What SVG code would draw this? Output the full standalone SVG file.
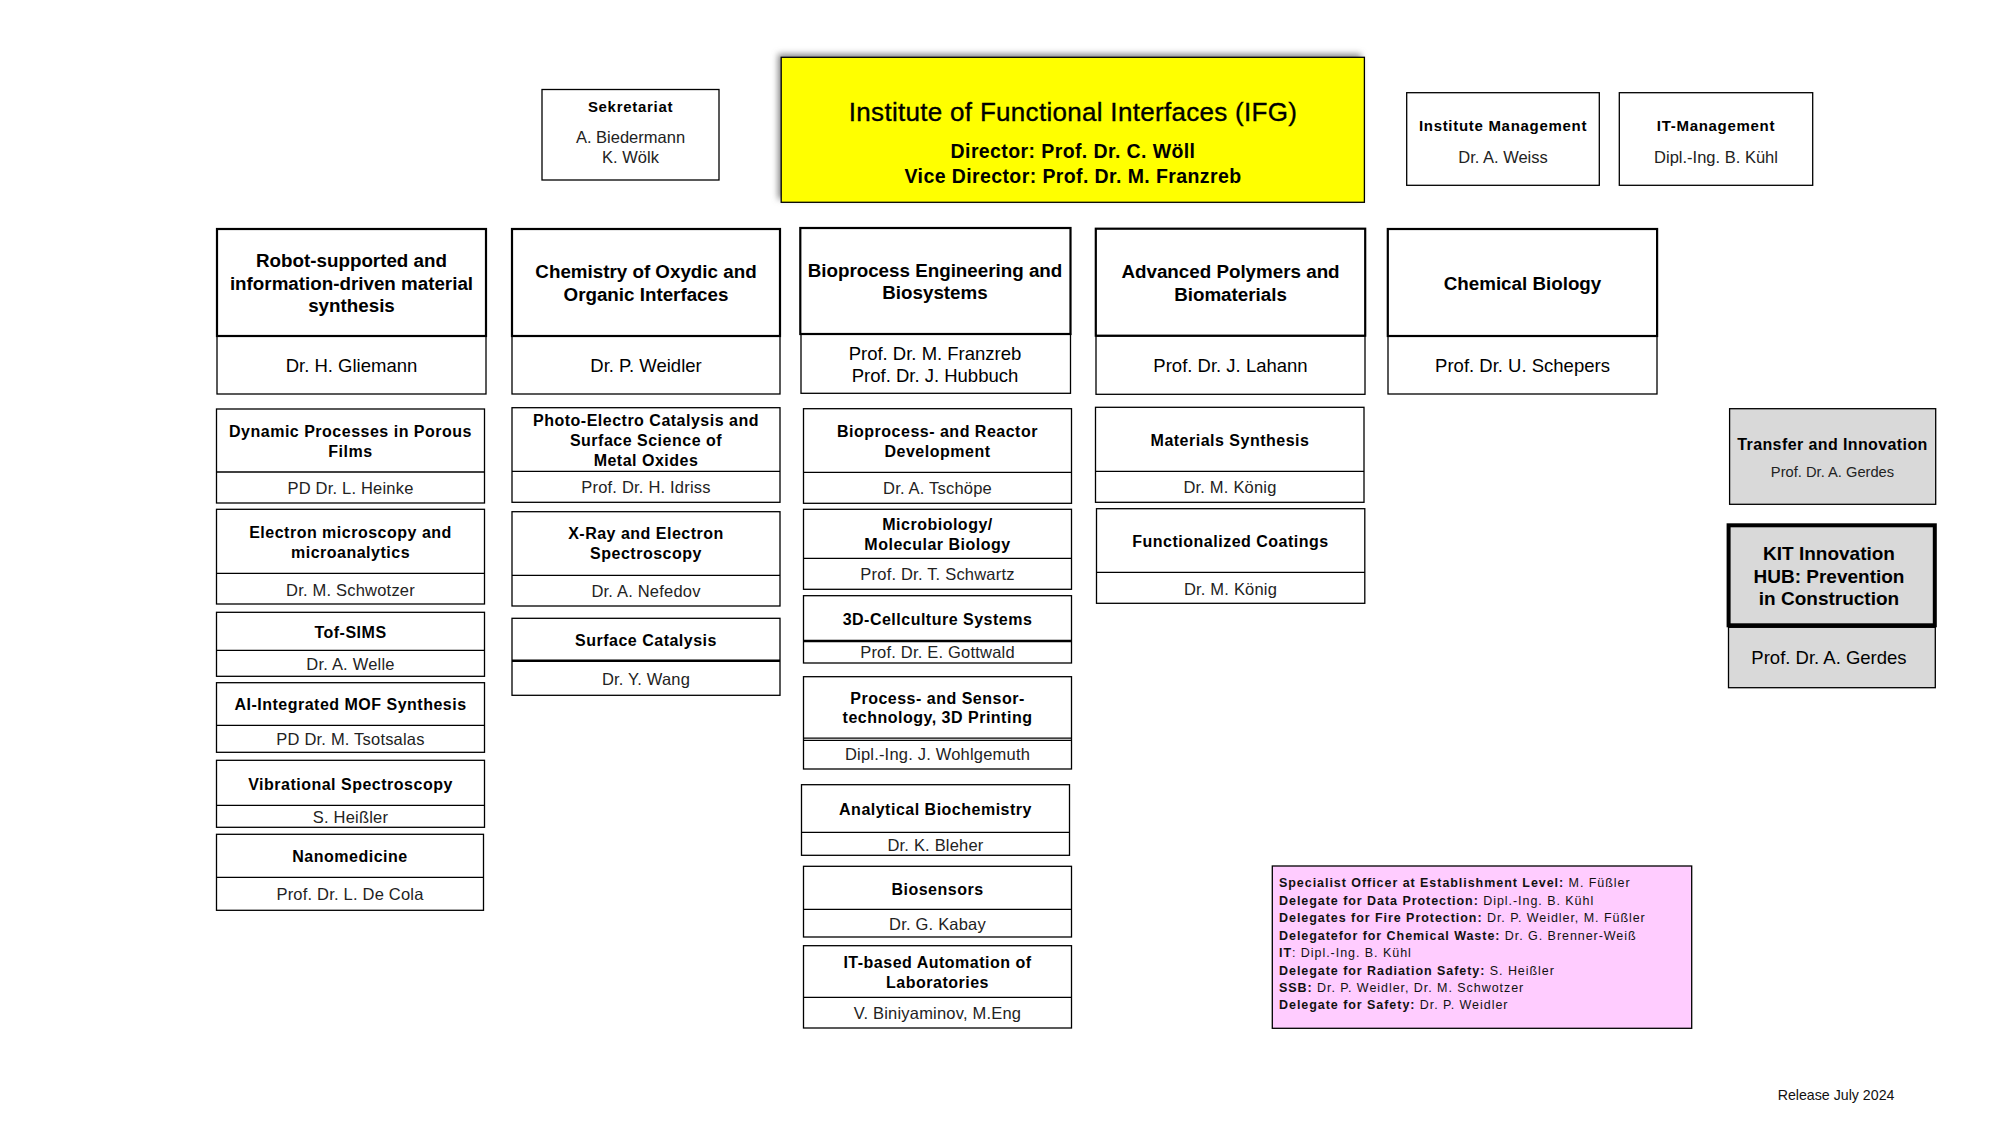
<svg xmlns="http://www.w3.org/2000/svg" width="2000" height="1125" viewBox="0 0 2000 1125">
<defs>
<filter id="sh" x="-10%" y="-20%" width="120%" height="140%"><feGaussianBlur stdDeviation="3"/></filter>
</defs>
<style>
text{font-family:"Liberation Sans",Arial,sans-serif;text-anchor:middle;fill:#000}
.b{fill:#fff;stroke:#000;stroke-width:1.3}
.hb{fill:#fff;stroke:#000;stroke-width:2.2}
.g{fill:#d9d9d9;stroke:#000;stroke-width:1.3}
.dv{stroke:#000;stroke-width:1.3}
.dk{stroke:#000;stroke-width:2.6}
.ht{font-size:18.8px;font-weight:bold}
.hn{font-size:18.5px}
.st{font-size:16px;font-weight:bold;letter-spacing:0.5px}
.sn{font-size:16.5px;fill:#222;letter-spacing:0.2px}
.tt{font-size:15px;font-weight:bold;letter-spacing:0.7px}
.tn{font-size:16.5px;fill:#222}
.pk{font-size:12.5px;text-anchor:start;letter-spacing:0.95px;fill:#111}
.pk tspan.bd{font-weight:bold}
</style>

<g id="connectors"/>

<g id="sekretariat">
<rect class="b" x="542" y="89.5" width="177" height="90.5"/>
<text class="tt" x="630.5" y="112">Sekretariat</text>
<text class="tn" x="630.5" y="143">A. Biedermann</text>
<text class="tn" x="630.5" y="162.5">K. Wölk</text>
</g>

<g id="ifg">
<rect x="778" y="54" width="583" height="145" fill="#888" filter="url(#sh)"/>
<rect x="781.2" y="57.3" width="583.2" height="145" fill="#ffff00" stroke="#000" stroke-width="1.3"/>
<text x="1073" y="120.5" style="font-size:26px;letter-spacing:0.3px;stroke:#000;stroke-width:0.35">Institute of Functional Interfaces (IFG)</text>
<text x="1073" y="157.5" style="font-size:19.5px;font-weight:bold;letter-spacing:0.4px">Director: Prof. Dr. C. Wöll</text>
<text x="1073" y="183" style="font-size:19.5px;font-weight:bold;letter-spacing:0.4px">Vice Director: Prof. Dr. M. Franzreb</text>
</g>

<g id="institute-management">
<rect class="b" x="1406.7" y="92.7" width="192.6" height="92.6"/>
<text class="tt" x="1503" y="131">Institute Management</text>
<text class="tn" x="1503" y="162.5">Dr. A. Weiss</text>
</g>

<g id="it-management">
<rect class="b" x="1619.3" y="92.7" width="193.4" height="92.6"/>
<text class="tt" x="1716" y="131">IT-Management</text>
<text class="tn" x="1716" y="162.5">Dipl.-Ing. B. Kühl</text>
</g>

<!-- Header divisions -->
<g id="div-robot">
<rect class="b" x="217" y="336" width="269" height="58"/>
<rect class="hb" x="217" y="229" width="269" height="107"/>
<text class="ht" x="351.5" y="267.4">Robot-supported and</text>
<text class="ht" x="351.5" y="290">information-driven material</text>
<text class="ht" x="351.5" y="312.4">synthesis</text>
<text class="hn" x="351.5" y="372.3">Dr. H. Gliemann</text>
</g>

<g id="div-chemistry">
<rect class="b" x="512" y="336" width="268" height="58"/>
<rect class="hb" x="512" y="229" width="268" height="107"/>
<text class="ht" x="646" y="278.4">Chemistry of Oxydic and</text>
<text class="ht" x="646" y="300.7">Organic Interfaces</text>
<text class="hn" x="646" y="372.3">Dr. P. Weidler</text>
</g>

<g id="div-bioprocess">
<rect class="b" x="801" y="334" width="269.5" height="59.3"/>
<rect class="hb" x="800.3" y="228" width="270.2" height="106"/>
<text class="ht" x="935" y="277.4">Bioprocess Engineering and</text>
<text class="ht" x="935" y="299">Biosystems</text>
<text class="hn" x="935" y="359.9">Prof. Dr. M. Franzreb</text>
<text class="hn" x="935" y="381.9">Prof. Dr. J. Hubbuch</text>
</g>

<g id="div-polymers">
<rect class="b" x="1096" y="336" width="269" height="58.3"/>
<rect class="hb" x="1095.8" y="228.7" width="269.4" height="107"/>
<text class="ht" x="1230.5" y="278.4">Advanced Polymers and</text>
<text class="ht" x="1230.5" y="300.7">Biomaterials</text>
<text class="hn" x="1230.5" y="372.3">Prof. Dr. J. Lahann</text>
</g>

<g id="div-chembio">
<rect class="b" x="1388" y="336" width="269" height="58"/>
<rect class="hb" x="1387.8" y="229" width="269.3" height="107"/>
<text class="ht" x="1522.5" y="290">Chemical Biology</text>
<text class="hn" x="1522.5" y="372.3">Prof. Dr. U. Schepers</text>
</g>

<!-- Column 1 groups -->
<g id="grp-dynamic">
<rect class="b" x="216.5" y="409" width="268" height="94"/>
<line class="dv" x1="216.5" y1="472" x2="484.5" y2="472"/>
<text class="st" x="350.5" y="437">Dynamic Processes in Porous</text>
<text class="st" x="350.5" y="456.7">Films</text>
<text class="sn" x="350.5" y="494">PD Dr. L. Heinke</text>
</g>

<g id="grp-electron">
<rect class="b" x="216.5" y="509.3" width="268" height="94.7"/>
<line class="dv" x1="216.5" y1="573.3" x2="484.5" y2="573.3"/>
<text class="st" x="350.5" y="538">Electron microscopy and</text>
<text class="st" x="350.5" y="558">microanalytics</text>
<text class="sn" x="350.5" y="595.7">Dr. M. Schwotzer</text>
</g>

<g id="grp-tofsims">
<rect class="b" x="216.5" y="612.3" width="268" height="64"/>
<line class="dv" x1="216.5" y1="650.3" x2="484.5" y2="650.3"/>
<text class="st" x="350.5" y="638">Tof-SIMS</text>
<text class="sn" x="350.5" y="669.7">Dr. A. Welle</text>
</g>

<g id="grp-ai-mof">
<rect class="b" x="216.5" y="682.7" width="268" height="69.6"/>
<line class="dv" x1="216.5" y1="725.3" x2="484.5" y2="725.3"/>
<text class="st" x="350.5" y="710">AI-Integrated MOF Synthesis</text>
<text class="sn" x="350.5" y="745">PD Dr. M. Tsotsalas</text>
</g>

<g id="grp-vibrational">
<rect class="b" x="216.5" y="760.3" width="268" height="67"/>
<line class="dv" x1="216.5" y1="805.3" x2="484.5" y2="805.3"/>
<text class="st" x="350.5" y="789.7">Vibrational Spectroscopy</text>
<text class="sn" x="350.5" y="823">S. Heißler</text>
</g>

<g id="grp-nanomedicine">
<rect class="b" x="216.5" y="834.3" width="267" height="76"/>
<line class="dv" x1="216.5" y1="877.3" x2="483.5" y2="877.3"/>
<text class="st" x="350" y="861.7">Nanomedicine</text>
<text class="sn" x="350" y="900">Prof. Dr. L. De Cola</text>
</g>

<!-- Column 2 groups -->
<g id="grp-photo">
<rect class="b" x="512" y="407.7" width="268" height="94.6"/>
<line class="dv" x1="512" y1="471.3" x2="780" y2="471.3"/>
<text class="st" x="646" y="426">Photo-Electro Catalysis and</text>
<text class="st" x="646" y="446">Surface Science of</text>
<text class="st" x="646" y="466">Metal Oxides</text>
<text class="sn" x="646" y="493">Prof. Dr. H. Idriss</text>
</g>

<g id="grp-xray">
<rect class="b" x="512" y="511.7" width="268" height="94.3"/>
<line class="dv" x1="512" y1="575.3" x2="780" y2="575.3"/>
<text class="st" x="646" y="539">X-Ray and Electron</text>
<text class="st" x="646" y="559.4">Spectroscopy</text>
<text class="sn" x="646" y="597.3">Dr. A. Nefedov</text>
</g>

<g id="grp-surface">
<rect class="b" x="512" y="618.3" width="268" height="77"/>
<line class="dk" x1="512" y1="660.7" x2="780" y2="660.7"/>
<text class="st" x="646" y="646">Surface Catalysis</text>
<text class="sn" x="646" y="684.7">Dr. Y. Wang</text>
</g>

<!-- Column 3 groups -->
<g id="grp-reactor">
<rect class="b" x="803.5" y="408.7" width="268" height="94.6"/>
<line class="dv" x1="803.5" y1="472.3" x2="1071.5" y2="472.3"/>
<text class="st" x="937.5" y="437">Bioprocess- and Reactor</text>
<text class="st" x="937.5" y="456.7">Development</text>
<text class="sn" x="937.5" y="494">Dr. A. Tschöpe</text>
</g>

<g id="grp-microbiology">
<rect class="b" x="803.5" y="509.3" width="268" height="80"/>
<line class="dv" x1="803.5" y1="558.3" x2="1071.5" y2="558.3"/>
<text class="st" x="937.5" y="529.7">Microbiology/</text>
<text class="st" x="937.5" y="549.7">Molecular Biology</text>
<text class="sn" x="937.5" y="579.7">Prof. Dr. T. Schwartz</text>
</g>

<g id="grp-cellculture">
<rect class="b" x="803.5" y="595.7" width="268" height="67.3"/>
<line class="dk" x1="803.5" y1="641" x2="1071.5" y2="641"/>
<text class="st" x="937.5" y="624.7">3D-Cellculture Systems</text>
<text class="sn" x="937.5" y="658.3">Prof. Dr. E. Gottwald</text>
</g>

<g id="grp-sensor">
<rect class="b" x="803.5" y="676.7" width="268" height="92.3"/>
<line class="dv" x1="803.5" y1="738.2" x2="1071.5" y2="738.2"/>
<line class="dv" x1="803.5" y1="740.4" x2="1071.5" y2="740.4"/>
<text class="st" x="937.5" y="704">Process- and Sensor-</text>
<text class="st" x="937.5" y="723.4">technology, 3D Printing</text>
<text class="sn" x="937.5" y="759.7">Dipl.-Ing. J. Wohlgemuth</text>
</g>

<g id="grp-analytical">
<rect class="b" x="801.5" y="784.7" width="268" height="70.6"/>
<line class="dv" x1="801.5" y1="832.3" x2="1069.5" y2="832.3"/>
<text class="st" x="935.5" y="815">Analytical Biochemistry</text>
<text class="sn" x="935.5" y="851">Dr. K. Bleher</text>
</g>

<g id="grp-biosensors">
<rect class="b" x="803.5" y="866.3" width="268" height="70.7"/>
<line class="dv" x1="803.5" y1="909.3" x2="1071.5" y2="909.3"/>
<text class="st" x="937.5" y="895">Biosensors</text>
<text class="sn" x="937.5" y="929.7">Dr. G. Kabay</text>
</g>

<g id="grp-it-automation">
<rect class="b" x="803.5" y="945.7" width="268" height="82.3"/>
<line class="dv" x1="803.5" y1="997.3" x2="1071.5" y2="997.3"/>
<text class="st" x="937.5" y="967.7">IT-based Automation of</text>
<text class="st" x="937.5" y="988">Laboratories</text>
<text class="sn" x="937.5" y="1019">V. Biniyaminov, M.Eng</text>
</g>

<!-- Column 4 groups -->
<g id="grp-materials">
<rect class="b" x="1095.5" y="407.3" width="268.5" height="95"/>
<line class="dv" x1="1095.5" y1="471.3" x2="1364" y2="471.3"/>
<text class="st" x="1230" y="446">Materials Synthesis</text>
<text class="sn" x="1230" y="493">Dr. M. König</text>
</g>

<g id="grp-coatings">
<rect class="b" x="1096.5" y="508.7" width="268.3" height="94.6"/>
<line class="dv" x1="1096.5" y1="572.3" x2="1364.8" y2="572.3"/>
<text class="st" x="1230.5" y="547.4">Functionalized Coatings</text>
<text class="sn" x="1230.5" y="594.7">Dr. M. König</text>
</g>

<!-- Right side -->
<g id="transfer">
<rect class="g" x="1729.6" y="408.7" width="206.1" height="95.6"/>
<text class="st" x="1832.5" y="450" style="letter-spacing:0.4px">Transfer and Innovation</text>
<text x="1832.5" y="477" style="font-size:14.7px;fill:#222">Prof. Dr. A. Gerdes</text>
</g>

<g id="kit-hub">
<rect class="g" x="1728.5" y="627.3" width="206.8" height="60.4"/>
<rect x="1728.6" y="525.3" width="206.2" height="100" fill="#d9d9d9" stroke="#000" stroke-width="4"/>
<text class="ht" x="1829" y="560" style="font-size:19px">KIT Innovation</text>
<text class="ht" x="1829" y="582.7" style="font-size:19px">HUB: Prevention</text>
<text class="ht" x="1829" y="605" style="font-size:19px">in Construction</text>
<text class="hn" x="1829" y="663.9">Prof. Dr. A. Gerdes</text>
</g>

<g id="delegates">
<rect x="1272.3" y="866" width="419.4" height="162.3" fill="#ffccff" stroke="#000" stroke-width="1.3"/>
<text class="pk" x="1279" y="886.8"><tspan class="bd">Specialist Officer at Establishment Level:</tspan> M. Füßler</text>
<text class="pk" x="1279" y="904.5"><tspan class="bd">Delegate for Data Protection:</tspan> Dipl.-Ing. B. Kühl</text>
<text class="pk" x="1279" y="922.2"><tspan class="bd">Delegates for Fire Protection:</tspan> Dr. P. Weidler, M. Füßler</text>
<text class="pk" x="1279" y="939.5"><tspan class="bd">Delegatefor for Chemical Waste:</tspan> Dr. G. Brenner-Weiß</text>
<text class="pk" x="1279" y="957.2"><tspan class="bd">IT</tspan>: Dipl.-Ing. B. Kühl</text>
<text class="pk" x="1279" y="974.5"><tspan class="bd">Delegate for Radiation Safety:</tspan> S. Heißler</text>
<text class="pk" x="1279" y="991.8"><tspan class="bd">SSB:</tspan> Dr. P. Weidler, Dr. M. Schwotzer</text>
<text class="pk" x="1279" y="1008.8"><tspan class="bd">Delegate for Safety:</tspan> Dr. P. Weidler</text>
</g>

<g id="release">
<text x="1777.7" y="1100" style="font-size:14.2px;text-anchor:start;fill:#111">Release July 2024</text>
</g>
</svg>
